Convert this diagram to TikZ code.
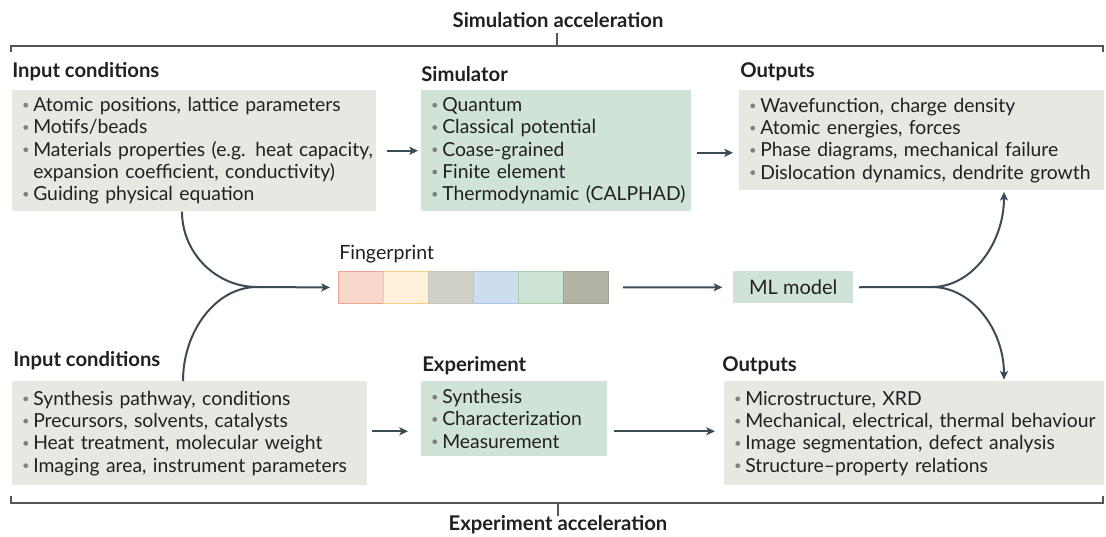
\documentclass[tikz,border=0pt]{standalone}
\usepackage{fontspec}
\setmainfont{Lato}
\usetikzlibrary{arrows.meta,calc}
\definecolor{boxgray}{HTML}{E8E8E3}
\definecolor{boxgreen}{HTML}{CFE4D7}
\definecolor{arrc}{HTML}{3B4C57}
\definecolor{bulc}{HTML}{808080}
\definecolor{txtc}{HTML}{231F20}
\definecolor{brc}{HTML}{555555}
\definecolor{fa}{HTML}{F8D8CB}\definecolor{fab}{HTML}{EBA590}
\definecolor{fb}{HTML}{FFF0DB}\definecolor{fbb}{HTML}{F9CF7D}
\definecolor{fc}{HTML}{D0D0C8}\definecolor{fcb}{HTML}{C5C5BC}
\definecolor{fd}{HTML}{CEDDEE}\definecolor{fdb}{HTML}{A9C6E6}
\definecolor{fe}{HTML}{CDE4D5}\definecolor{feb}{HTML}{A3CFAF}
\definecolor{ff}{HTML}{B1B3A4}\definecolor{ffb}{HTML}{A0A294}
\newcommand{\bdot}{\tikz[baseline=0pt]\fill[bulc] (0pt,0.33em) circle (1.8pt);}
\newcommand{\bit}[1]{\mbox{\makebox[8.25pt][l]{\hspace{0.8pt}\bdot}#1}}
\newcommand{\cont}[1]{\mbox{\hspace*{8.25pt}#1}}
\begin{document}
\begin{tikzpicture}[x=0.75pt,y=-0.75pt,
  every node/.style={text=txtc},
  infobox/.style={anchor=north west, inner xsep=7.5pt, inner ysep=0pt, align=left,
    font=\fontsize{14.5}{16.7}\selectfont},
  graybox/.style={infobox, fill=boxgray},
  greenbox/.style={infobox, fill=boxgreen},
  heading/.style={anchor=west, inner sep=0pt, font=\fontsize{15.2}{18}\selectfont\bfseries},
  arr/.style={draw=arrc, line width=1.5pt, -{Stealth[length=6.5pt,width=6pt,inset=1.5pt]}},
  link/.style={draw=arrc, line width=1.5pt},
  cell/.style={anchor=north west, minimum width=33.75pt, minimum height=24pt, inner sep=0pt, line width=0.75pt},
  bracket/.style={draw=brc, line width=0.8pt}
]
\useasboundingbox (0,0) rectangle (1106,536);
\fill[white] (0,0) rectangle (1106,536);

% titles and brackets
\node[heading, anchor=center] (tsim) at (558,20) {Simulation acceleration};
\node[heading, anchor=center] (texp) at (558,525) {Experiment acceleration};
\draw[bracket] (11,52) -- (11,46) -- (1103,46) -- (1103,52);
\draw[bracket] (557,46) -- (557,33);
\draw[bracket] (11,496) -- (11,503) -- (1103,503) -- (1103,496);
\draw[bracket] (558,503) -- (558,516);

% headings
\node[heading] (hin1) at (12,72) {Input conditions};
\node[heading] (hsim) at (421,74) {Simulator};
\node[heading] (hout1) at (740,72) {Outputs};
\node[heading] (hin2) at (13,361) {Input conditions};
\node[heading] (hexp) at (422,366) {Experiment};
\node[heading] (hout2) at (722,366) {Outputs};

% boxes
\node[graybox, minimum width=273pt, minimum height=90.75pt, text width=258pt] (in1) at (12,90)
 {\bit{Atomic positions, lattice parameters}\\
  \bit{Motifs/beads}\\
  \bit{Materials properties (e.g. heat capacity,}\\
  \cont{expansion coefficient, conductivity)}\\
  \bit{Guiding physical equation}};
\node[greenbox, minimum width=202.5pt, minimum height=90.75pt, text width=187.5pt] (sim) at (421,90)
 {\bit{Quantum}\\
  \bit{Classical potential}\\
  \bit{Coase-grained}\\
  \bit{Finite element}\\
  \bit{Thermodynamic (CALPHAD)}};
\node[graybox, minimum width=273.75pt, minimum height=75pt, text width=258.75pt] (out1) at (739,90)
 {\bit{Wavefunction, charge density}\\
  \bit{Atomic energies, forces}\\
  \bit{Phase diagrams, mechanical failure}\\
  \bit{Dislocation dynamics, dendrite growth}};
\node[graybox, minimum width=266.25pt, minimum height=78pt, text width=251.25pt] (in2) at (12,381)
 {\bit{Synthesis pathway, conditions}\\
  \bit{Precursors, solvents, catalysts}\\
  \bit{Heat treatment, molecular weight}\\
  \bit{Imaging area, instrument parameters}};
\node[greenbox, minimum width=139.5pt, minimum height=56.25pt, text width=124.5pt] (exp) at (421,381)
 {\bit{Synthesis}\\
  \bit{Characterization}\\
  \bit{Measurement}};
\node[graybox, minimum width=285pt, minimum height=78pt, text width=270pt] (out2) at (724,381)
 {\bit{Microstructure, XRD}\\
  \bit{Mechanical, electrical, thermal behaviour}\\
  \bit{Image segmentation, defect analysis}\\
  \bit{Structure--property relations}};

% fingerprint
\node[anchor=west, inner sep=0pt, font=\fontsize{14.7}{16}\selectfont] (fplab) at (339,254) {Fingerprint};
\node[cell, fill=fa, draw=fab] (fp1) at (338,271) {};
\node[cell, fill=fb, draw=fbb] (fp2) at (383,271) {};
\node[cell, fill=fc, draw=fcb] (fp3) at (428,271) {};
\node[cell, fill=fd, draw=fdb] (fp4) at (473,271) {};
\node[cell, fill=fe, draw=feb] (fp5) at (518,271) {};
\node[cell, fill=ff, draw=ffb] (fp6) at (563,271) {};

% ML model
\node[anchor=north west, fill=boxgreen, minimum width=90pt, minimum height=24pt, inner sep=0pt,
      font=\fontsize{15}{16}\selectfont] (ml) at (733,271) {ML model};

% connectors
\draw[arr, shorten <=7.5pt, shorten >=2.25pt] (in1.east) -- (sim.west);
\draw[arr, shorten <=3.75pt, shorten >=4.5pt] ($(sim.east)+(0,2)$) -- ($(sim.east -| out1.west)+(0,2)$);
\draw[arr, shorten <=3pt, shorten >=9.75pt] ($(in2.east)+(0,-2)$) -- ($(in2.east -| exp.west)+(0,-2)$);
\draw[arr, shorten <=4.5pt, shorten >=6.75pt] ($(exp.east |- out2.west)+(0,-2)$) -- ($(out2.west)+(0,-2)$);

\coordinate (jl) at (257,287);
\coordinate (s1) at (in1.south -| 182,0);
\coordinate (s2) at (in2.north -| 183,0);
\draw[link] (s1) .. controls (182,253) and (216,287) .. (jl);
\draw[link] (s2) .. controls (183,331) and (216,287) .. (jl);
\draw[arr, shorten >=6pt] (jl) -- (fp1.west);

\draw[arr, shorten <=10.5pt, shorten >=8pt] (fp6.east) -- (ml.west);

\coordinate (jr) at (932,287);
\coordinate (t1) at (out1.south -| 1004,0);
\coordinate (t2) at (out2.north -| 1004,0);
\draw[link, shorten <=4pt] (ml.east) -- (jr);
\draw[arr, shorten >=1pt] (jr) .. controls (972,287) and (1004,243) .. (t1);
\draw[arr, shorten >=1pt] (jr) .. controls (972,287) and (1004,330) .. (t2);
\end{tikzpicture}
\end{document}
